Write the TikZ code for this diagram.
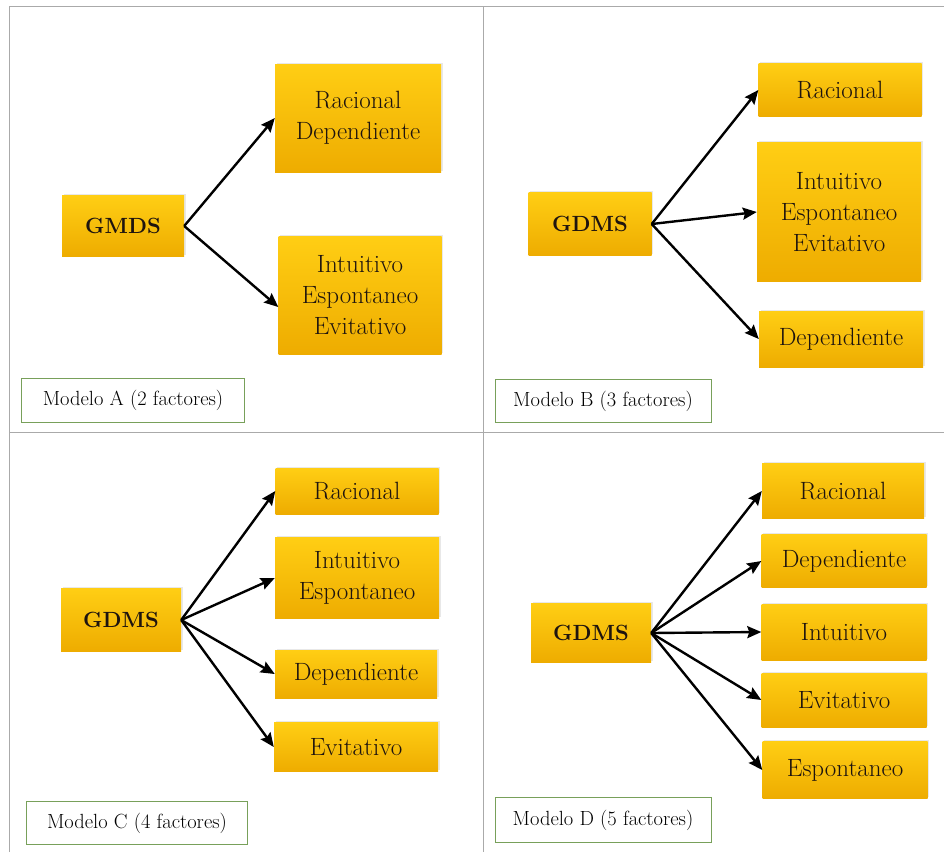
\documentclass[tikz,border=0pt]{standalone}
\usetikzlibrary{arrows.meta,shadows}
\definecolor{goldtop}{RGB}{255,206,20}
\definecolor{goldbot}{RGB}{238,172,0}
\definecolor{gridgray}{RGB}{170,170,170}
\definecolor{tagframe}{RGB}{120,160,90}
\definecolor{inkbrown}{RGB}{30,20,15}
\tikzset{
  factor/.style={top color=goldtop,bottom color=goldbot,draw=none,align=center,
    inner sep=0pt,font=\fontsize{25}{31}\selectfont,text=inkbrown,
    drop shadow={shadow xshift=1.5pt,shadow yshift=1.5pt,opacity=0.18}},
  rootbox/.style={factor,font=\fontsize{22}{31}\selectfont\bfseries},
  tag/.style={draw=tagframe,line width=0.8pt,fill=white,inner sep=0pt,
    font=\fontsize{20.5}{24}\selectfont},
  link/.style={line width=2.4pt,-{Stealth[length=14pt,width=12pt,inset=2pt]}}
}
\begin{document}
\begin{tikzpicture}[x=1pt,y=-1pt]
\useasboundingbox (0,0) rectangle (944,852);
% frame
\draw[gridgray,line width=1pt] (9,852)--(9,6)--(944,6);
\draw[gridgray,line width=1pt] (483,6)--(483,852);
\draw[gridgray,line width=1pt] (9,432)--(944,432);
% Modelo A
\node[rootbox,minimum width=122,minimum height=61] (a0) at (123,226) {GMDS};
\node[factor,minimum width=166,minimum height=108] (a1) at (358,118) {Racional\\Dependiente};
\node[factor,minimum width=163,minimum height=118] (a2) at (360,295) {Intuitivo\\Espontaneo\\Evitativo};
\draw[link] (a0.east)--(a1.west);
\draw[link] (a0.east)--([yshift=-12]a2.west);
\node[tag,minimum width=223,minimum height=44] (ta) at (133,400) {Modelo A (2 factores)};
% Modelo B
\node[rootbox,minimum width=123,minimum height=63] (b0) at (590,224) {GDMS};
\node[factor,minimum width=163,minimum height=53] (b1) at (840,90) {Racional};
\node[factor,minimum width=164,minimum height=139] (b2) at (839,212) {Intuitivo\\Espontaneo\\Evitativo};
\node[factor,minimum width=164,minimum height=56] (b3) at (841,339) {Dependiente};
\foreach \t in {b1,b2,b3}
  \draw[link] (b0.east)--(\t.west);
\node[tag,minimum width=216,minimum height=43] (tb) at (603,401) {Modelo B (3 factores)};
% Modelo C
\node[rootbox,minimum width=120,minimum height=63] (c0) at (121,620) {GDMS};
\node[factor,minimum width=163,minimum height=46] (c1) at (357,491) {Racional};
\node[factor,minimum width=164,minimum height=81] (c2) at (357,578) {Intuitivo\\Espontaneo};
\node[factor,minimum width=162,minimum height=48] (c3) at (356,674) {Dependiente};
\node[factor,minimum width=164,minimum height=49] (c4) at (356,747) {Evitativo};
\foreach \t in {c1,c2,c3,c4}
  \draw[link] (c0.east)--(\t.west);
\node[tag,minimum width=221,minimum height=43] (tc) at (137,823) {Modelo C (4 factores)};
% Modelo D
\node[rootbox,minimum width=120,minimum height=59] (d0) at (591,633) {GDMS};
\node[factor,minimum width=162,minimum height=55] (d1) at (843,491) {Racional};
\node[factor,minimum width=165,minimum height=53] (d2) at (844,561) {Dependiente};
\node[factor,minimum width=165,minimum height=56] (d3) at (844,632) {Intuitivo};
\node[factor,minimum width=165,minimum height=54] (d4) at (844,700) {Evitativo};
\node[factor,minimum width=165,minimum height=57] (d5) at (845,770) {Espontaneo};
\foreach \t in {d1,d2,d3,d4,d5}
  \draw[link] (d0.east)--(\t.west);
\node[tag,minimum width=216,minimum height=45] (td) at (603,820) {Modelo D (5 factores)};
\end{tikzpicture}
\end{document}
